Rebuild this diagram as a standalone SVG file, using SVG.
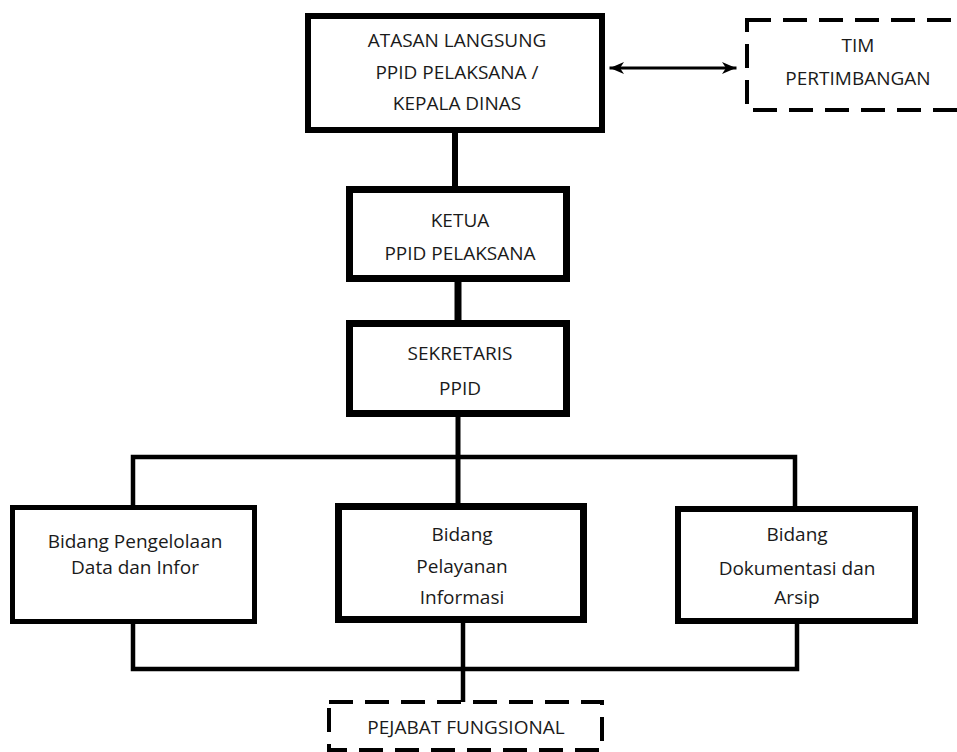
<svg xmlns="http://www.w3.org/2000/svg" width="957" height="752" viewBox="0 0 957 752">
<style>
  .box { fill: #ffffff; stroke: #000000; }
  .dash { fill: #ffffff; stroke: #000000; stroke-width: 4; stroke-dasharray: 24 12; }
  .t { font-family: "Open Sans", "Noto Sans", sans-serif; font-size: 19px; fill: #1a1a1a; text-anchor: middle; }
  .ln { stroke: #000000; fill: none; stroke-linecap: square; }
</style>
<defs>
  <marker id="ah" viewBox="0 0 14 12" refX="13" refY="6" markerWidth="14" markerHeight="12" markerUnits="userSpaceOnUse" orient="auto-start-reverse">
    <path d="M0,0 L14,6 L0,12 L4,6 Z" fill="#000"/>
  </marker>
</defs>
<rect width="957" height="752" fill="#ffffff"/>

<g id="connectors">
  <line class="ln" x1="611" y1="68" x2="735" y2="68" stroke-width="3" stroke-linecap="butt" marker-start="url(#ah)" marker-end="url(#ah)"/>
  <line class="ln" x1="455" y1="133" x2="455" y2="186" stroke-width="6" stroke-linecap="butt"/>
  <line class="ln" x1="458" y1="282" x2="458" y2="320" stroke-width="7" stroke-linecap="butt"/>
  <line class="ln" x1="458" y1="417" x2="458" y2="504" stroke-width="5" stroke-linecap="butt"/>
  <polyline class="ln" points="133,506 133,457 795,457 795,507" stroke-width="4.5"/>
  <polyline class="ln" points="133,623 133,669 797,669 797,623" stroke-width="4.5"/>
  <line class="ln" x1="463" y1="622" x2="463" y2="702" stroke-width="4.5" stroke-linecap="butt"/>
</g>

<g id="atasan">
  <rect class="box" x="308" y="16" width="294" height="114" stroke-width="6"/>
  <text class="t" x="457" y="47">ATASAN LANGSUNG</text>
  <text class="t" x="457" y="79">PPID PELAKSANA /</text>
  <text class="t" x="457" y="110">KEPALA DINAS</text>
</g>

<g id="tim">
  <rect class="dash" x="747" y="20" width="222" height="90"/>
  <text class="t" x="858" y="52">TIM</text>
  <text class="t" x="858" y="85">PERTIMBANGAN</text>
</g>

<g id="ketua">
  <rect class="box" x="349.5" y="189.5" width="217" height="89" stroke-width="7"/>
  <text class="t" x="460" y="227">KETUA</text>
  <text class="t" x="460" y="260">PPID PELAKSANA</text>
</g>

<g id="sekretaris">
  <rect class="box" x="349.5" y="323.5" width="217" height="90" stroke-width="7"/>
  <text class="t" x="460" y="360">SEKRETARIS</text>
  <text class="t" x="460" y="395">PPID</text>
</g>

<g id="bidang-pengelolaan">
  <rect class="box" x="12.5" y="507.5" width="242" height="114" stroke-width="5"/>
  <text class="t" x="135" y="548">Bidang Pengelolaan</text>
  <text class="t" x="135" y="574">Data dan Infor</text>
</g>

<g id="bidang-pelayanan">
  <rect class="box" x="338.5" y="506.5" width="245" height="113" stroke-width="7"/>
  <text class="t" x="462" y="541">Bidang</text>
  <text class="t" x="462" y="573">Pelayanan</text>
  <text class="t" x="462" y="604">Informasi</text>
</g>

<g id="bidang-dokumentasi">
  <rect class="box" x="678" y="509" width="237" height="112" stroke-width="6"/>
  <text class="t" x="797" y="541">Bidang</text>
  <text class="t" x="797" y="575">Dokumentasi dan</text>
  <text class="t" x="797" y="604">Arsip</text>
</g>

<g id="pejabat">
  <rect class="dash" x="329" y="702" width="273" height="48"/>
  <text class="t" x="466" y="734">PEJABAT FUNGSIONAL</text>
</g>
</svg>
